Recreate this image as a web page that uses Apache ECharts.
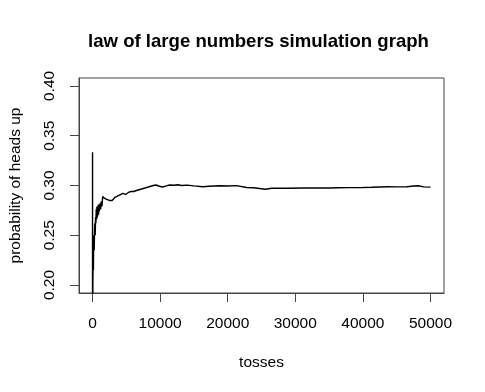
<!DOCTYPE html>
<html>
<head>
<meta charset="utf-8">
<script src="https://cdn.jsdelivr.net/npm/echarts@6/dist/echarts.min.js"></script>
<style>html,body{margin:0;padding:0;background:#fff;}#c{width:485px;height:392px;}</style>
</head>
<body>
<div id="c"></div>
<script>
// tosses (x) and running proportion of heads (y)
var tosses = [1,2,3,4,5,6,8,10,15,20,30,40,50,70,100,130,160,200,250,300,350,400,450,500,550,600,650,700,750,800,850,900,950,1000,1100,1200,1300,1400,1500,1650,1800,1950,2100,2300,2500,2700,2900,3100,3300,3600,3900,4200,4500,4900,5300,5700,6100,6500,7000,7500,8000,8500,9000,9400,9800,10300,10800,11400,12000,12600,13200,14000,15000,16300,17200,18800,20000,21300,22800,23800,25000,25600,26500,27300,29000,31000,33000,35000,36300,38000,40000,41300,42500,43700,45000,46500,47500,48200,49000,50000];
var probHeads = [0,0,0.3333,0.25,0.2,0.1667,0.125,0.2,0.2,0.15,0.2,0.175,0.2,0.214,0.23,0.215,0.24,0.25,0.235,0.255,0.262,0.25,0.268,0.262,0.276,0.266,0.279,0.268,0.278,0.27,0.281,0.271,0.28,0.274,0.282,0.276,0.284,0.279,0.289,0.288,0.287,0.289,0.286,0.288,0.285,0.284,0.285,0.287,0.288,0.289,0.29,0.291,0.292,0.291,0.293,0.294,0.294,0.295,0.296,0.297,0.298,0.299,0.3,0.3005,0.2995,0.2985,0.2993,0.3005,0.3003,0.3008,0.3,0.3004,0.2996,0.2988,0.2993,0.2997,0.2995,0.2999,0.298,0.2978,0.2968,0.2962,0.2972,0.2974,0.2973,0.2975,0.2976,0.2975,0.2978,0.2979,0.298,0.2982,0.2985,0.2988,0.2986,0.2988,0.2995,0.2998,0.2986,0.2984];
var xTicks = [0,10000,20000,30000,40000,50000];
var yTicks = [0.20,0.25,0.30,0.35,0.40];

var data = tosses.map(function(t,i){return [t, probHeads[i]];});
var font = 'Liberation Sans, Arial, Helvetica, sans-serif';
var chart = echarts.init(document.getElementById('c'), null, {renderer:'canvas'});
chart.setOption({
  animation:false,
  backgroundColor:'#fff',
  title:{text:'law of large numbers simulation graph', left:88, top:32, padding:0,
    textStyle:{fontFamily:font, fontWeight:'bold', fontSize:18.6, color:'#000'}},
  grid:{left:79, right:41, top:78, bottom:99, show:true, borderColor:'#444', borderWidth:1, backgroundColor:'transparent'},
  xAxis:{type:'value', min:-2000, max:52000,
    name:'tosses', nameLocation:'middle', nameGap:62,
    nameTextStyle:{fontFamily:font, fontSize:15.5, color:'#000'},
    axisLine:{show:true, onZero:false, lineStyle:{color:'#444', width:1}}, splitLine:{show:false},
    axisTick:{show:true, inside:false, customValues:xTicks, length:9, lineStyle:{color:'#444', width:1}},
    axisLabel:{customValues:xTicks, margin:23, fontFamily:font, fontSize:15.5, color:'#000',
      formatter:function(v){return String(v);}}},
  yAxis:{type:'value', min:0.192, max:0.408,
    name:'probability of heads up', nameLocation:'middle', nameGap:55,
    nameTextStyle:{fontFamily:font, fontSize:15.5, color:'#000'},
    axisLine:{show:true, onZero:false, lineStyle:{color:'#444', width:1}}, splitLine:{show:false},
    axisTick:{show:true, inside:false, customValues:yTicks, length:9, lineStyle:{color:'#444', width:1}},
    axisLabel:{customValues:yTicks, rotate:90, margin:21, fontFamily:font, fontSize:15.5, color:'#000',
      formatter:function(v){return v.toFixed(2);}}},
  series:[{type:'line', data:data, showSymbol:false, symbol:'none', clip:true,
    lineStyle:{color:'#000', width:1.4}}]
});
</script>
</body>
</html>
